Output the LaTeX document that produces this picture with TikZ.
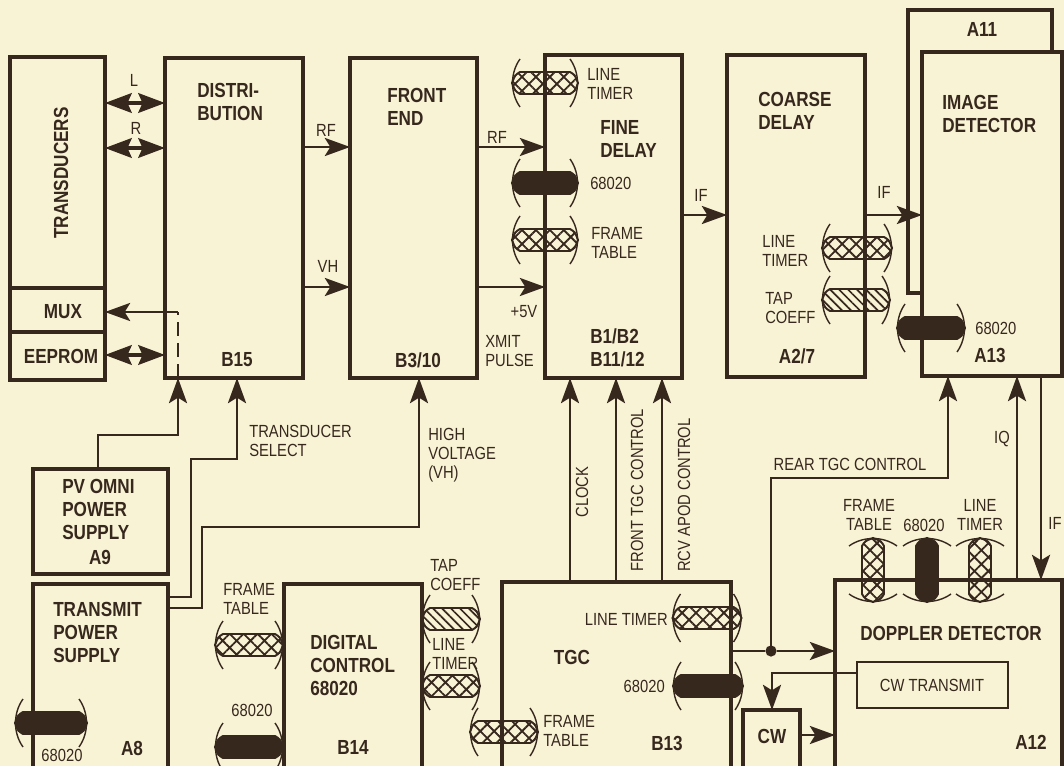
\documentclass[tikz,border=0pt]{standalone}
\usepackage{fontspec}
\setmainfont{Liberation Sans}[FakeStretch=0.84]
\usetikzlibrary{arrows.meta,patterns.meta,fit}
\definecolor{paper}{RGB}{249,243,214}
\definecolor{ink}{RGB}{55,40,30}
\tikzset{
    blk/.style={draw=ink, line width=2.6pt, fill=paper, inner sep=0pt, outer sep=0pt},
    thinblk/.style={draw=ink, line width=1.4pt, inner sep=0pt, outer sep=0pt},
    ttl/.style={text=ink, font=\fontsize{14.5}{16.5}\selectfont\bfseries, align=left, inner sep=0pt},
    lbl/.style={text=ink, font=\fontsize{12.5}{13.5}\selectfont, align=left, inner sep=0pt},
    wire/.style={draw=ink, line width=1.1pt},
    sig/.style={wire, -{Stealth[length=18pt,width=13pt,inset=4pt]}},
    dblarr/.style={draw=ink, line width=2.2pt,
        {Stealth[length=19pt,width=14pt,inset=3pt]}-{Stealth[length=19pt,width=14pt,inset=3pt]}},
    dot/.style={circle, fill=ink, inner sep=0pt, minimum size=8pt},
    busband/.style={draw=ink, line width=1.4pt},
    busflare/.style={draw=ink, line width=1pt},
    crossbus/.style={pattern={Hatch[angle=45,distance=7pt,line width=1.3pt]}, pattern color=ink},
    linebus/.style={pattern={Lines[angle=-45,distance=4.5pt,line width=1.2pt]}, pattern color=ink},
    solidbus/.style={fill=ink},
    pics/bus/.style n args={2}{code={
        \path[busband,#2] ({-#1/2+8},-11) -- ({#1/2-8},-11)
            .. controls ({#1/2-3},-8) .. ({#1/2},0)
            .. controls ({#1/2-3},8) .. ({#1/2-8},11)
            -- ({-#1/2+8},11)
            .. controls ({-#1/2+3},8) .. ({-#1/2},0)
            .. controls ({-#1/2+3},-8) .. cycle;
        \draw[busflare] ({#1/2-8},-24) .. controls ({#1/2+2},-10) and ({#1/2+2},10) .. ({#1/2-8},24);
        \draw[busflare] ({-#1/2+8},-24) .. controls ({-#1/2-2},-10) and ({-#1/2-2},10) .. ({-#1/2+8},24);
    }}
}
\begin{document}
\begin{tikzpicture}[x=0.025cm, y=-0.025cm]
\fill[paper] (0,0) rectangle (1064,766);
\clip (0,0) rectangle (1064,766);

% blocks
\node[blk, fit={(10,57) (105,288)}] (trans) {};
\node[blk, fit={(10,288) (105,332)}] (mux) {};
\node[blk, fit={(10,332) (105,380)}] (eeprom) {};
\node[blk, fit={(165,58) (303,378)}] (dist) {};
\node[blk, fit={(350,58) (477,378)}] (front) {};
\node[blk, fit={(545,55) (682,378)}] (fine) {};
\node[blk, fit={(727,55) (865,377)}] (coarse) {};
\node[blk, fit={(908,10) (1052,293)}] (a11) {};
\node[blk, fit={(922,52) (1062,376)}] (imgdet) {};
\node[blk, fit={(33,469) (168,574)}] (pvomni) {};
\node[blk, fit={(33,584) (168,800)}] (txps) {};
\node[blk, fit={(284,584) (422,800)}] (digctl) {};
\node[blk, fit={(502,582) (731,800)}] (tgc) {};
\node[blk, fit={(743,710) (800,800)}] (cw) {};
\node[blk, fit={(835,580) (1062,800)}] (doppler) {};
\node[thinblk, fit={(857,662) (1008,708)}] (cwtx) {};
\node[dot] (jn) at (771,651) {};

% connectors
\draw[dblarr] (trans.east |- 0,103) -- (dist.west |- 0,103);
\draw[dblarr] (trans.east |- 0,148) -- (dist.west |- 0,148);
\draw[dblarr] (eeprom.east |- 0,355) -- (dist.west |- 0,355);
\draw[sig] (dist.east |- 0,147) -- (front.west |- 0,147);
\draw[sig] (dist.east |- 0,287) -- (front.west |- 0,287);
\draw[sig] (front.east |- 0,147) -- (fine.west |- 0,147);
\draw[sig] (front.east |- 0,287) -- (fine.west |- 0,287);
\draw[sig] (fine.east |- 0,215) -- (coarse.west |- 0,215);
\draw[sig] (coarse.east |- 0,215) -- (imgdet.west |- 0,215);
\draw[sig] (pvomni.north -| 98,0) |- (178,435) -- (dist.south -| 178,0);
\draw[wire, dash pattern=on 10pt off 5pt] (dist.south -| 178,0) -- (178,312);
\draw[sig] (178,312) -- (mux.east |- 0,312);
\draw[sig] (txps.east |- 0,597) -| (191,459) -| (dist.south -| 237,0);
\draw[sig] (txps.east |- 0,608) -| (202,527) -| (front.south -| 419,0);
\foreach \x in {570,616,662}
    \draw[sig] (tgc.north -| \x,0) -- (fine.south -| \x,0);
\draw[wire] (tgc.east |- jn) -- (jn);
\draw[sig] (jn) -- (doppler.west |- jn);
\draw[sig] (jn.center) |- (948,478) -- (imgdet.south -| 948,0);
\draw[sig] (doppler.north -| 1017,0) -- (imgdet.south -| 1017,0);
\draw[sig] (imgdet.south -| 1041,0) -- (doppler.north -| 1041,0);
\draw[sig] (cwtx.west |- 0,673) -| (cw.north -| 772,0);
\draw[sig] (cw.east |- 0,735) -- (doppler.west |- 0,735);

% buses
\pic (fdLT) at (545,83) {bus={66}{crossbus}};
\pic (fdMP) at (545,183) {bus={66}{solidbus}};
\pic (fdFT) at (545,240) {bus={66}{crossbus}};
\pic (cdLT) at (857,248) {bus={70}{crossbus}};
\pic (cdTC) at (856,300) {bus={68}{linebus}};
\pic (idMP) at (931,328) {bus={68}{solidbus}};
\pic (tpMP) at (51,723) {bus={72}{solidbus}};
\pic (dcFT) at (249,645) {bus={68}{crossbus}};
\pic (dcMP) at (249,747) {bus={68}{solidbus}};
\pic (dcTC) at (451,619) {bus={58}{linebus}};
\pic (dcLT) at (451,686) {bus={58}{crossbus}};
\pic (tgFT) at (504,732) {bus={68}{crossbus}};
\pic (tgLT) at (707,618) {bus={69}{crossbus}};
\pic (tgMP) at (708,686) {bus={70}{solidbus}};
\pic[rotate=90] (ddFT) at (873,570) {bus={64}{crossbus}};
\pic[rotate=90] (ddMP) at (927,570) {bus={64}{solidbus}};
\pic[rotate=90] (ddLT) at (980,570) {bus={64}{crossbus}};

% block titles
\node[ttl, rotate=90] (tTrans) at (61,173) {TRANSDUCERS};
\node[ttl] (tMux) at (63,312) {MUX};
\node[ttl] (tEeprom) at (61,356) {EEPROM};
\node[ttl, anchor=north west] (tDist) at (197,83) {DISTRI-\\BUTION};
\node[ttl] (tB15) at (237,360) {B15};
\node[ttl, anchor=north west] (tFront) at (387,88) {FRONT\\END};
\node[ttl] (tB310) at (418,360) {B3/10};
\node[ttl, anchor=north west] (tFine) at (600,120) {FINE\\DELAY};
\node[ttl, anchor=north west] (tB12) at (590,328) {B1/B2\\B11/12};
\node[ttl, anchor=north west] (tCoarse) at (758,92) {COARSE\\DELAY};
\node[ttl] (tA27) at (797,356) {A2/7};
\node[ttl] (tA11) at (982,29) {A11};
\node[ttl, anchor=north west] (tImg) at (942,95) {IMAGE\\DETECTOR};
\node[ttl] (tA13) at (990,355) {A13};
\node[ttl, anchor=north west] (tPv) at (62,479) {PV OMNI\\POWER\\SUPPLY};
\node[ttl] (tA9) at (100,557) {A9};
\node[ttl, anchor=north west] (tTx) at (53,602) {TRANSMIT\\POWER\\SUPPLY};
\node[ttl] (tA8) at (132,748) {A8};
\node[ttl, anchor=north west] (tDig) at (310,635) {DIGITAL\\CONTROL\\68020};
\node[ttl] (tB14) at (353,747) {B14};
\node[ttl] (tTgc) at (572,657) {TGC};
\node[ttl] (tB13) at (667,743) {B13};
\node[ttl] (tCw) at (772,736) {CW};
\node[ttl] (tDop) at (951,633) {DOPPLER DETECTOR};
\node[ttl] (tA12) at (1031,742) {A12};
\node[lbl] (tCwtx) at (932,685) {CW TRANSMIT};

% signal labels
\node[lbl] (lL) at (134,80) {L};
\node[lbl] (lR) at (136,128) {R};
\node[lbl] (lRF1) at (326,130) {RF};
\node[lbl] (lVH) at (328,266) {VH};
\node[lbl] (lRF2) at (497,137) {RF};
\node[lbl] (l5V) at (524,312) {+5V};
\node[lbl, anchor=north west] (lXmit) at (485,335) {XMIT\\PULSE};
\node[lbl] (lIF1) at (701,195) {IF};
\node[lbl] (lIF2) at (884,192) {IF};
\node[lbl, anchor=north west] (lFdLT) at (587,68) {LINE\\TIMER};
\node[lbl, anchor=west] (lFdMP) at (590,183) {68020};
\node[lbl, anchor=north west] (lFdFT) at (591,227) {FRAME\\TABLE};
\node[lbl, anchor=north west] (lCdLT) at (762,235) {LINE\\TIMER};
\node[lbl, anchor=north west] (lCdTC) at (765,292) {TAP\\COEFF};
\node[lbl, anchor=west] (lIdMP) at (975,328) {68020};
\node[lbl, anchor=north west] (lSel) at (249,425) {TRANSDUCER\\SELECT};
\node[lbl, anchor=north west] (lHv) at (428,428) {HIGH\\VOLTAGE\\(VH)};
\node[lbl] (lTpMP) at (62,755) {68020};
\node[lbl, anchor=north west] (lDcFT) at (223,583) {FRAME\\TABLE};
\node[lbl] (lDcMP) at (252,710) {68020};
\node[lbl, anchor=north west] (lDcTC) at (430,559) {TAP\\COEFF};
\node[lbl, anchor=north west] (lDcLT) at (432,638) {LINE\\TIMER};
\node[lbl, rotate=90] (lClk) at (582,492) {CLOCK};
\node[lbl, rotate=90] (lFtgc) at (637,490) {FRONT TGC CONTROL};
\node[lbl, rotate=90] (lRcv) at (684,495) {RCV APOD CONTROL};
\node[lbl, anchor=east] (lTgLT) at (668,619) {LINE TIMER};
\node[lbl, anchor=east] (lTgMP) at (665,686) {68020};
\node[lbl, anchor=north west] (lTgFT) at (543,715) {FRAME\\TABLE};
\node[lbl] (lRear) at (850,464) {REAR TGC CONTROL};
\node[lbl] (lIQ) at (1002,439) {IQ};
\node[lbl] (lIF3) at (1055,523) {IF};
\node[lbl, align=center] (lDdFT) at (869,515) {FRAME\\TABLE};
\node[lbl] (lDdMP) at (924,525) {68020};
\node[lbl, align=center] (lDdLT) at (980,515) {LINE\\TIMER};
\end{tikzpicture}
\end{document}
